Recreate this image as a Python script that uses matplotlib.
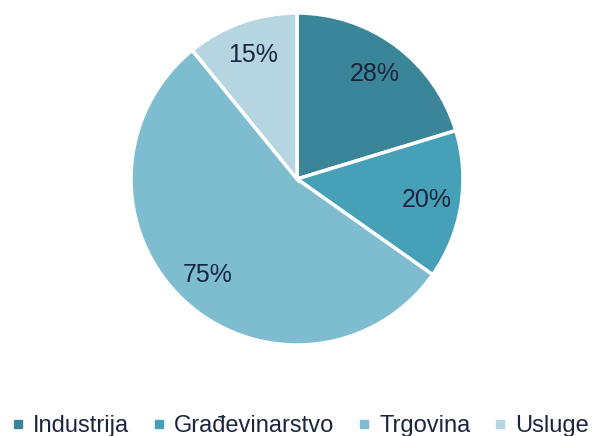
import matplotlib.pyplot as plt
from matplotlib.lines import Line2D

plt.rcParams['font.family'] = ['Liberation Sans', 'DejaVu Sans']

sectors = ['Industrija', 'Građevinarstvo', 'Trgovina', 'Usluge']
values = [28, 20, 75, 15]
colors = ['#3A8598', '#46A1B8', '#7EBCCF', '#B5D5E0']
text_color = '#1B2540'

fig = plt.figure(figsize=(5.95, 4.36), dpi=100)
ax = fig.add_axes([131 / 595, 1 - 345 / 436, 332 / 595, 332 / 436])

wedges, texts = ax.pie(values, colors=colors, startangle=90, counterclock=False,
                       labels=[f'{v}%' for v in values], labeldistance=0.79,
                       wedgeprops=dict(edgecolor='white', linewidth=2.5),
                       textprops=dict(color=text_color, fontsize=18,
                                      ha='center', va='center'))
ax.set_xlim(-1, 1)
ax.set_ylim(-1, 1)
ax.set_aspect('equal')

handles = [Line2D([], [], marker='s', linestyle='none', markersize=6,
                  markerfacecolor=c, markeredgecolor=c) for c in colors]
fig.legend(handles, sectors, loc='center', bbox_to_anchor=(0.505, 0.022),
           ncol=4, frameon=False, fontsize=17, handlelength=0.5,
           handletextpad=0.4, columnspacing=1.0, labelcolor=text_color,
           borderaxespad=0, borderpad=0)

fig.savefig('out.png', dpi=100)
